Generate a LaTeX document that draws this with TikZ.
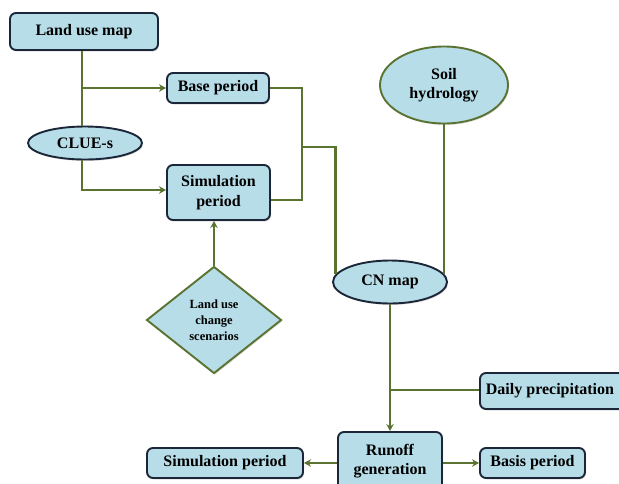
\documentclass[tikz,border=0pt]{standalone}
\usepackage{fontspec}
\setmainfont{Liberation Serif}
\usetikzlibrary{shapes.geometric,arrows.meta,shadows}
\definecolor{boxfill}{HTML}{B7DDE8}
\definecolor{navy}{HTML}{1B2638}
\definecolor{olive}{HTML}{5A7330}
\tikzset{
  base/.style={fill=boxfill, line width=1.9pt, align=center, inner sep=0pt,
    font=\fontsize{16}{19.5}\selectfont\bfseries,
    drop shadow={opacity=0.25, shadow xshift=1pt, shadow yshift=-1.5pt}},
  rbox/.style={base, draw=navy, rectangle, rounded corners=6pt},
  navyell/.style={base, draw=navy, ellipse},
  greenell/.style={base, draw=olive, ellipse},
  dia/.style={base, draw=olive, diamond, font=\fontsize{12.5}{16}\selectfont\bfseries},
  conn/.style={draw=olive, line width=2.2pt},
  arr/.style={conn, -{Stealth[length=7pt,width=7.5pt]}}
}
\begin{document}
\begin{tikzpicture}[x=1pt,y=-1pt]
\useasboundingbox (0,0) rectangle (619,483);
\clip (0,0) rectangle (619,483);
% nodes
\node[rbox, minimum width=148pt, minimum height=37pt] (land) at (84,31.5) {Land use map};
\node[rbox, minimum width=102pt, minimum height=30pt] (basep) at (218,88) {Base period};
\node[navyell, minimum width=114pt, minimum height=33pt] (clue) at (85,143) {CLUE-s};
\node[rbox, minimum width=103pt, minimum height=55pt] (simp) at (218.5,192.5) {Simulation\\period};
\node[dia, minimum width=135pt, minimum height=107pt] (scen) at (214,320) {Land use\\change\\scenarios};
\node[greenell, minimum width=128pt, minimum height=77pt] (soil) at (444,85) {Soil\\hydrology};
\node[navyell, minimum width=114pt, minimum height=43pt] (cn) at (390,282) {CN map};
\node[rbox, minimum width=104pt, minimum height=58pt] (runoff) at (390,461) {Runoff\\generation};
\node[rbox, minimum width=152pt, minimum height=36pt] (daily) at (556,391) {\hspace*{-12pt}Daily precipitation};
\node[rbox, minimum width=105pt, minimum height=30pt] (basis) at (532.5,463) {Basis period};
\node[rbox, minimum width=156pt, minimum height=30pt] (simb) at (225,463) {Simulation period};
% coordinates
\coordinate (j1) at (82,88);
\coordinate (j2) at (82,190);
\coordinate (r1) at (302,88);
\coordinate (r2) at (302,200);
\coordinate (j3) at (302,147);
\coordinate (j4) at (390,390);
% connectors
\draw[conn] (land.south -| j1) -- (clue.north -| j1);
\draw[arr] (j1) -- (basep.west |- j1);
\draw[arr] (clue.south -| j2) -- (j2) -- (simp.west |- j2);
\draw[arr] (scen.north) -- (simp.south -| scen.north);
\draw[conn] (basep.east |- r1) -- (r1) -- (r2) -- (simp.east |- r2);
\draw[conn] (j3) -| (cn.172);
\draw[conn] (soil.south) -- (soil.south |- cn.8);
\draw[arr] (cn.south) -- (runoff.north);
\draw[conn] (daily.west |- j4) -- (j4);
\draw[arr] (runoff.east |- basis.west) -- (basis.west);
\draw[arr] (runoff.west |- simb.east) -- (simb.east);
\end{tikzpicture}
\end{document}
